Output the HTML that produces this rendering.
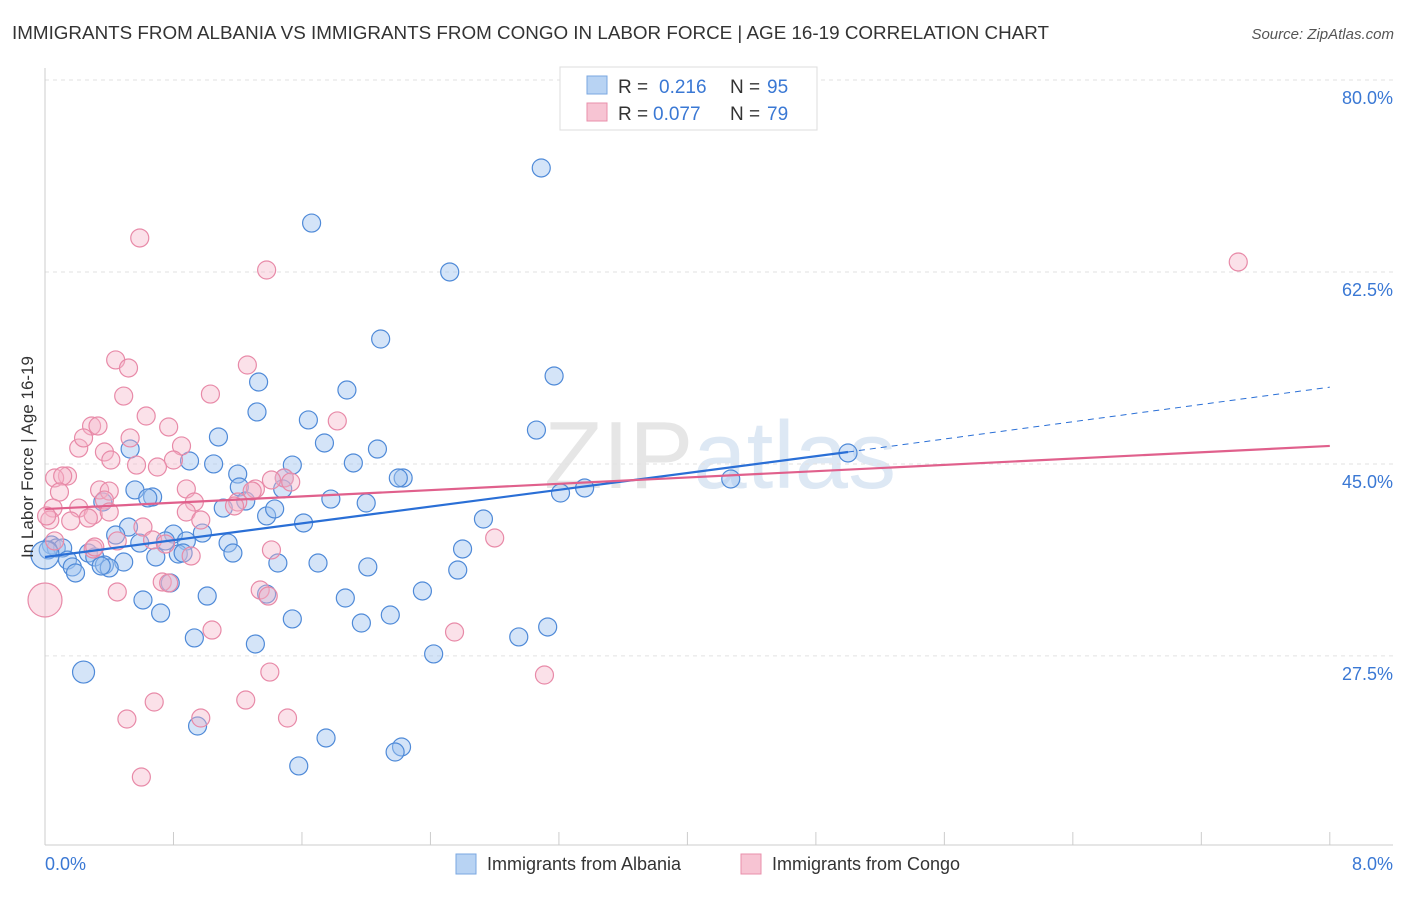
<!DOCTYPE html>
<html><head><meta charset="utf-8"><style>
body{margin:0;background:#fff;font-family:"Liberation Sans",sans-serif;}
svg text{font-family:"Liberation Sans",sans-serif;}
</style></head><body>
<svg id="c" width="1406" height="892" xmlns="http://www.w3.org/2000/svg">
<text x="12" y="39" font-size="18" fill="#333" textLength="1037" lengthAdjust="spacingAndGlyphs">IMMIGRANTS FROM ALBANIA VS IMMIGRANTS FROM CONGO IN LABOR FORCE | AGE 16-19 CORRELATION CHART</text>
<text x="1394" y="39" font-size="15" fill="#555" font-style="italic" text-anchor="end">Source: ZipAtlas.com</text>
<text x="720" y="488" font-size="96" fill="#e6e6e6" text-anchor="middle" font-family="Liberation Serif">ZIP<tspan fill="#dde8f4" font-family="Liberation Sans">atlas</tspan></text>
<g id="grid"></g><g id="axes"></g><g id="pts"></g><g id="trend"></g>
<text x="33" y="457" font-size="17" fill="#333" text-anchor="middle" transform="rotate(-90 33 457)">In Labor Force | Age 16-19</text>
<g>
<rect x="560" y="67" width="257" height="63" fill="#fff" stroke="#ddd"/>
<rect x="587" y="76" width="20" height="18" fill="#b8d3f3" stroke="#7aa7e0"/>
<rect x="587" y="103" width="20" height="18" fill="#f7c4d3" stroke="#e98fab"/>
<text x="618" y="93" font-size="19" fill="#333">R =</text>
<text x="659" y="93" font-size="19" fill="#3a78d4">0.216</text>
<text x="730" y="93" font-size="19" fill="#333">N =</text>
<text x="767" y="93" font-size="19" fill="#3a78d4">95</text>
<text x="618" y="120" font-size="19" fill="#333">R =</text>
<text x="653" y="120" font-size="19" fill="#3a78d4">0.077</text>
<text x="730" y="120" font-size="19" fill="#333">N =</text>
<text x="767" y="120" font-size="19" fill="#3a78d4">79</text>
</g>
<g>
<rect x="456" y="854" width="20" height="20" fill="#b8d3f3" stroke="#7aa7e0"/>
<text x="487" y="870" font-size="18" fill="#333">Immigrants from Albania</text>
<rect x="741" y="854" width="20" height="20" fill="#f7c4d3" stroke="#e98fab"/>
<text x="772" y="870" font-size="18" fill="#333">Immigrants from Congo</text>
</g>
</svg>
<script>
const yTicks=[80,62.5,45,27.5];
const yTickLabels=["80.0%","62.5%","45.0%","27.5%"];
const xTickCount=10;
const albaniaX=[3.09,1.66,2.52,2.09,3.17,1.33,1.88,1.32,1.64,3.06,1.08,1.74,2.07,0.90,1.05,1.92,1.54,1.20,2.23,2.20,1.49,0.53,1.21,1.48,0.56,0.67,0.64,1.25,0.36,1.78,2.00,3.21,3.36,4.27,5.00,1.11,1.38,1.43,1.61,2.73,0.52,0.44,0.80,0.98,0.59,0.75,0.88,1.14,0.04,0.07,0.11,0.02,0,0.14,0.27,0.31,0.83,0.86,1.17,2.60,0.69,0.49,0.37,0.40,0.35,0.17,0.19,1.45,1.70,2.01,2.57,0.78,2.35,1.01,0.61,1.38,1.87,0.72,1.54,2.15,1.97,3.13,2.95,0.93,1.31,2.42,0.24,0.95,1.75,2.22,2.18,1.58];
const albaniaY=[71.98,66.96,62.5,56.39,53.02,52.47,51.74,49.74,49.01,48.09,47.46,46.91,46.36,45.27,45.0,45.09,44.9,44.08,43.72,43.72,43.72,46.36,42.9,42.72,42.63,41.99,41.9,41.62,41.53,41.8,41.44,42.35,42.81,43.63,46.0,40.98,40.26,40.9,39.62,39.98,39.25,38.52,38.61,38.7,37.79,37.98,37.98,37.79,37.61,37.34,37.34,37.16,36.7,36.24,36.88,36.52,36.79,36.88,36.88,37.25,36.52,36.06,35.79,35.52,35.7,35.61,35.06,35.97,35.97,35.61,35.33,34.15,33.42,32.96,32.6,33.14,32.78,31.41,30.87,31.23,30.5,30.14,29.23,29.14,28.59,27.68,26.03,21.11,20.02,19.2,18.74,17.47];
const congoX=[0.59,1.38,7.43,0.44,1.26,0.52,0.49,1.03,1.82,0.63,0.29,0.33,0.77,0.53,0.85,0.21,0.37,0.24,0.41,0.57,0.80,0.70,0.14,0.06,0.11,1.49,1.41,1.53,0.09,0.34,0.88,0.40,1.31,1.29,0.37,0.93,1.20,1.18,0.05,0.21,0.30,0.03,0.01,0.16,0.27,0.88,0.97,0.61,0.30,0.45,0.67,0.75,0.31,1.41,2.80,0.91,0.73,0.77,0.45,1.34,1.39,0,1.04,2.55,1.40,3.11,0.68,1.25,0.51,0.97,1.51,0.60,0.06,0.40];
const congoY=[65.6,62.68,63.41,54.48,54.02,53.75,51.19,51.37,48.92,49.37,48.46,48.46,48.37,47.37,46.64,46.45,46.09,47.37,45.36,44.9,45.36,44.72,43.9,43.72,43.9,43.72,43.54,43.35,42.44,42.63,42.72,42.53,42.72,42.53,41.71,41.53,41.53,41.17,40.98,40.98,40.35,39.89,40.26,39.8,40.07,40.62,39.89,39.25,37.25,37.98,38.07,37.7,37.43,37.16,38.25,36.61,34.24,34.15,33.33,33.51,32.96,32.6,29.86,29.68,26.03,25.76,23.3,23.48,21.75,21.84,21.84,16.46,37.98,40.62];
const albaniaTrend=[36.52,46.09,52.0]; // at x=0, x=5, x=8
const congoTrend=[40.89,46.64]; // at x=0, x=8
const NS="http://www.w3.org/2000/svg";
const X=v=>45+v*160.6, Y=v=>80+(80-v)*10.97;
function mk(tag,attrs,parent){const e=document.createElementNS(NS,tag);for(const k in attrs)e.setAttribute(k,attrs[k]);parent.appendChild(e);return e;}
const grid=document.getElementById('grid'),axes=document.getElementById('axes'),pts=document.getElementById('pts'),tr=document.getElementById('trend');
yTicks.forEach((t,i)=>{
 const l=mk('line',{x1:45,x2:1393,y1:Y(t),y2:Y(t),stroke:'#e2e2e2','stroke-dasharray':'4,4'},grid);
 
 
 const tx=mk('text',{x:1393,y:Y(t)+24,'font-size':18,fill:'#3a78d4','text-anchor':'end'},axes);
 tx.textContent=yTickLabels[i];
 
 
});
const ya=mk('line',{x1:45,x2:45,y1:68,y2:845,stroke:'#ccc'},axes);


const xa=mk('line',{x1:45,x2:1393,y1:845,y2:845,stroke:'#ccc'},axes);


for(let i=0;i<=xTickCount;i++){const t=mk('line',{x1:X(i*0.8),x2:X(i*0.8),y1:832,y2:845,stroke:'#ccc'},axes);
 
 }
[["0.0%",45,'start'],["8.0%",1393,'end']].forEach(a=>{const t=mk('text',{x:a[1],y:870,'font-size':18,fill:'#3a78d4','text-anchor':a[2]},axes);t.textContent=a[0];
 
 });
function big(x,y){return (x===0&&(y===36.7||y===32.6))?(y===32.6?17:14):(x===0.24&&y===26.03?11:9);}
albaniaX.forEach((x,i)=>{const c=mk('circle',{cx:X(x),cy:Y(albaniaY[i]),r:big(x,albaniaY[i]),fill:'rgba(160,196,240,0.45)',stroke:'#4f8ad8','stroke-width':1.2},pts);
 
 });
congoX.forEach((x,i)=>{const c=mk('circle',{cx:X(x),cy:Y(congoY[i]),r:big(x,congoY[i]),fill:'rgba(245,180,200,0.4)',stroke:'#e88aa8','stroke-width':1.2},pts);
 
 });
const b1=mk('line',{x1:X(0),y1:Y(albaniaTrend[0]),x2:X(5),y2:Y(albaniaTrend[1]),stroke:'#2a6fd6','stroke-width':2.2},tr);


const b2=mk('line',{x1:X(5),y1:Y(albaniaTrend[1]),x2:X(8),y2:Y(albaniaTrend[2]),stroke:'#2a6fd6','stroke-width':1,'stroke-dasharray':'6,5'},tr);


const p1=mk('line',{x1:X(0),y1:Y(congoTrend[0]),x2:X(8),y2:Y(congoTrend[1]),stroke:'#e0608c','stroke-width':2.2},tr);


</script>
</body></html>
